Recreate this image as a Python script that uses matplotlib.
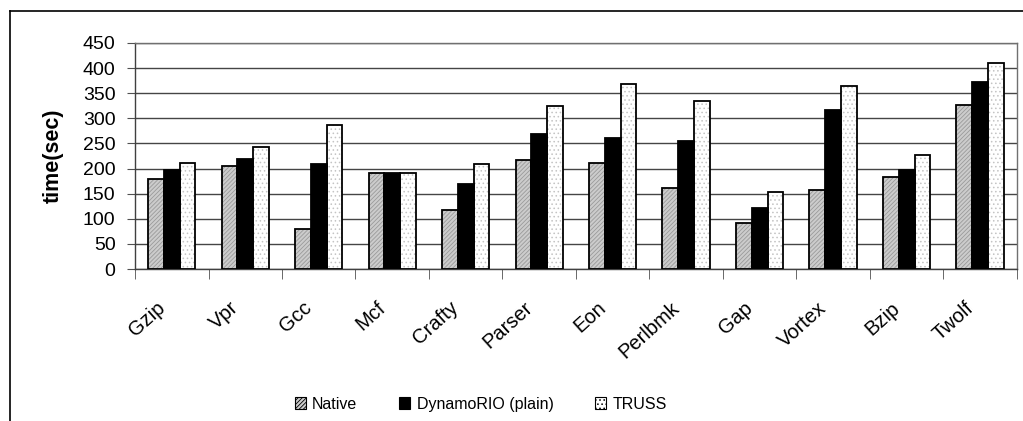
import numpy as np
import matplotlib
matplotlib.use("Agg")
import matplotlib.pyplot as plt
import matplotlib.transforms as mtransforms
from matplotlib.lines import Line2D
from matplotlib.patches import Patch

plt.rcParams['font.family'] = ['Liberation Sans', 'DejaVu Sans']
plt.rcParams['hatch.linewidth'] = 0.6

benchmarks = ["Gzip", "Vpr", "Gcc", "Mcf", "Crafty", "Parser", "Eon",
              "Perlbmk", "Gap", "Vortex", "Bzip", "Twolf"]
native = [179, 206, 79, 191, 117, 217, 212, 161, 91, 158, 183, 327]
dynamorio = [198, 218, 210, 191, 169, 269, 260, 254, 121, 317, 198, 373]
truss = [212, 242, 286, 191, 209, 325, 369, 334, 153, 364, 227, 411]

series = [("Native", native, "#cccccc", "////////", "#9a9a9a"),
          ("DynamoRIO (plain)", dynamorio, "black", None, "black"),
          ("TRUSS", truss, "white", "....", "#c4c4c4")]

fig = plt.figure(figsize=(10.23, 4.21), dpi=100)
ax = fig.add_axes([0.132, 0.361, 0.862, 0.537])

x = np.arange(len(benchmarks))
w = 0.215
for i, (name, vals, fc, hatch, hc) in enumerate(series):
    pos = x + (i - 1) * w
    # fill + hatch in a light colour, then black outline on top
    ax.bar(pos, vals, w, color=fc, hatch=hatch, edgecolor=hc, linewidth=0, zorder=2)
    ax.bar(pos, vals, w, fill=False, edgecolor="black", linewidth=1.3, zorder=3)

ax.set_xlim(-0.5, len(benchmarks) - 0.5)
ax.set_ylim(0, 450)
ax.set_yticks(np.arange(0, 451, 50))
ax.yaxis.grid(True, color="#454545", linewidth=1.0, zorder=0)
ax.set_axisbelow(True)
ax.tick_params(axis="y", labelsize=14, length=6, direction="out", color="#505050", pad=8)

ax.set_xticks(x)
ax.set_xticklabels(benchmarks, rotation=42, ha="right", rotation_mode="anchor", fontsize=14.5)
ax.tick_params(axis="x", length=0, pad=11)
ax.set_xticks(np.arange(-0.5, len(benchmarks)), minor=True)
ax.tick_params(axis="x", which="minor", length=7, color="#505050")
# nudge the rotated labels left and down like the original
shift = mtransforms.ScaledTranslation(-16 / 100, -14 / 100, fig.dpi_scale_trans)
for lbl in ax.get_xticklabels():
    lbl.set_transform(lbl.get_transform() + shift)

for s in ax.spines.values():
    s.set_color("#707070")
    s.set_linewidth(1.0)
ax.spines["left"].set_color("#404040")
ax.spines["bottom"].set_color("#404040")

ax.set_ylabel("time(sec)", fontsize=15.5, fontweight="bold", labelpad=14)

handles = [Patch(facecolor="#cccccc", edgecolor="black", hatch="////////", linewidth=0.8),
           Patch(facecolor="black", edgecolor="black", linewidth=0.8),
           Patch(facecolor="white", edgecolor="black", hatch="....", linewidth=0.8)]
fig.legend(handles, [s[0] for s in series], loc="center", bbox_to_anchor=(0.47, 0.04),
           ncol=3, frameon=False, fontsize=11.5, handlelength=0.7, handleheight=0.7,
           handletextpad=0.4, columnspacing=2.6)

# outer chart frame
fig.add_artist(Line2D([10 / 1023, 10 / 1023], [0, 1 - 11 / 421], color="black", linewidth=1.2))
fig.add_artist(Line2D([10 / 1023, 1], [1 - 11 / 421, 1 - 11 / 421], color="black", linewidth=1.2))

fig.savefig("out.png", dpi=100)
